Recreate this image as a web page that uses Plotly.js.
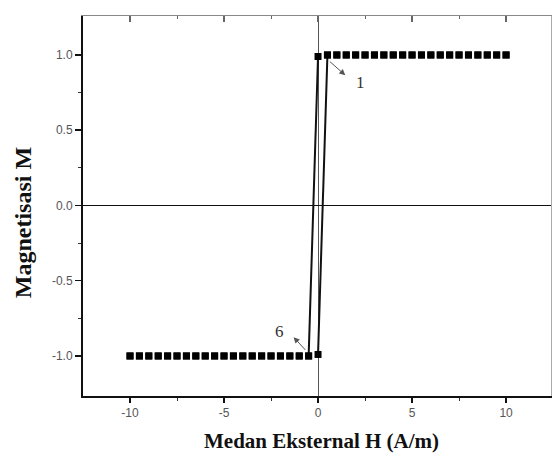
<!DOCTYPE html>
<html>
<head>
<meta charset="utf-8">
<script src="https://cdn.plot.ly/plotly-3.0.1.min.js"></script>
<style>html,body{margin:0;padding:0;background:#fff;}#chart{width:552px;height:457px;}</style>
</head>
<body>
<div id="chart"></div>
<script>
// Descending branch (H from +10 to -10)
const H_desc = [10, 9.5, 9, 8.5, 8, 7.5, 7, 6.5, 6, 5.5, 5, 4.5, 4, 3.5, 3, 2.5, 2, 1.5, 1, 0.5, 0,
                -0.5, -1, -1.5, -2, -2.5, -3, -3.5, -4, -4.5, -5, -5.5, -6, -6.5, -7, -7.5, -8, -8.5, -9, -9.5, -10];
const M_desc = [1, 1, 1, 1, 1, 1, 1, 1, 1, 1, 1, 1, 1, 1, 1, 1, 1, 1, 1, 1, 0.99,
                -1, -1, -1, -1, -1, -1, -1, -1, -1, -1, -1, -1, -1, -1, -1, -1, -1, -1, -1, -1];
// Ascending branch (H from -10 to +10)
const H_asc = [-10, -9.5, -9, -8.5, -8, -7.5, -7, -6.5, -6, -5.5, -5, -4.5, -4, -3.5, -3, -2.5, -2, -1.5, -1, -0.5, 0,
               0.5, 1, 1.5, 2, 2.5, 3, 3.5, 4, 4.5, 5, 5.5, 6, 6.5, 7, 7.5, 8, 8.5, 9, 9.5, 10];
const M_asc = [-1, -1, -1, -1, -1, -1, -1, -1, -1, -1, -1, -1, -1, -1, -1, -1, -1, -1, -1, -1, -0.99,
               1, 1, 1, 1, 1, 1, 1, 1, 1, 1, 1, 1, 1, 1, 1, 1, 1, 1, 1, 1];

const xTickVals = [-10, -5, 0, 5, 10];
const xTickText = ['-10', '-5', '0', '5', '10'];
const yTickVals = [-1.0, -0.5, 0.0, 0.5, 1.0];
const yTickText = ['-1.0', '-0.5', '0.0', '0.5', '1.0'];

const xTitle = 'Medan Eksternal H (A/m)';
const yTitle = 'Magnetisasi M';

// curve labels: text, label position, arrow tail (on curve), arrow head (near label)
const labelText = ['1', '6'];
const labelH = [2.25, -2.05];
const labelM = [0.82, -0.84];
const arrowTailH = [0.55, -0.6];
const arrowTailM = [0.965, -0.97];
const arrowHeadH = [1.45, -1.3];
const arrowHeadM = [0.865, -0.875];

function transitionSegments(H, M) {
  const xs = [], ys = [];
  for (let i = 0; i < H.length - 1; i++) {
    if (Math.abs(M[i + 1] - M[i]) > 0.5) {
      xs.push(H[i], H[i + 1], null);
      ys.push(M[i], M[i + 1], null);
    }
  }
  return {xs, ys};
}
const segD = transitionSegments(H_desc, M_desc);
const segA = transitionSegments(H_asc, M_asc);

const XR = [-12.5, 12.39];
const YR = [-1.266, 1.259];

const traces = [
  {x: segD.xs, y: segD.ys, mode: 'lines', line: {color: '#111', width: 2}, hoverinfo: 'skip', showlegend: false},
  {x: segA.xs, y: segA.ys, mode: 'lines', line: {color: '#111', width: 2}, hoverinfo: 'skip', showlegend: false},
  {x: H_desc, y: M_desc, mode: 'markers', marker: {symbol: 'square', size: 7, color: '#000'}, showlegend: false},
  {x: H_asc, y: M_asc, mode: 'markers', marker: {symbol: 'square', size: 7, color: '#000'}, showlegend: false},
  // overlay axes for top/right frame
  {x: [0], y: [0], xaxis: 'x2', yaxis: 'y2', mode: 'markers', marker: {opacity: 0}, hoverinfo: 'skip', showlegend: false}
];

const serif = 'Liberation Serif, Times New Roman, serif';
const annotations = [];
for (let i = 0; i < labelText.length; i++) {
  annotations.push({
    x: labelH[i], y: labelM[i], xref: 'x', yref: 'y', text: labelText[i], showarrow: false,
    font: {family: serif, size: 17, color: '#333'}
  });
  annotations.push({
    x: arrowHeadH[i], y: arrowHeadM[i], ax: arrowTailH[i], ay: arrowTailM[i],
    xref: 'x', yref: 'y', axref: 'x', ayref: 'y', text: '', showarrow: true,
    arrowhead: 2, arrowsize: 1.2, arrowwidth: 1, arrowcolor: '#555'
  });
}
// axis titles
annotations.push({
  text: '<b>' + xTitle + '</b>', xref: 'paper', yref: 'paper', x: 0.51, y: -0.082, yanchor: 'top',
  showarrow: false, font: {family: serif, size: 21, color: '#111'}
});
annotations.push({
  text: '<b>' + yTitle + '</b>', xref: 'paper', yref: 'paper', x: -0.128, y: 0.455, textangle: -90,
  xanchor: 'center', yanchor: 'middle',
  showarrow: false, font: {family: serif, size: 24, color: '#111'}
});

const tickFont = {family: 'Liberation Sans, Arial, sans-serif', size: 12, color: '#555'};

const layout = {
  width: 552, height: 457,
  margin: {l: 83, r: 1, t: 16, b: 61},
  paper_bgcolor: '#fff', plot_bgcolor: '#fff',
  showlegend: false,
  xaxis: {
    range: XR, showgrid: false, zeroline: true, zerolinecolor: '#555', zerolinewidth: 1,
    showline: true, linecolor: '#111', linewidth: 2,
    ticks: 'outside', ticklen: 5, tickwidth: 1.5, tickcolor: '#111',
    tickvals: xTickVals, ticktext: xTickText, tickfont: tickFont,
    minor: {tickvals: [-7.5, -2.5, 2.5, 7.5], ticks: 'outside', ticklen: 3, tickwidth: 1, tickcolor: '#333'},
    automargin: false
  },
  yaxis: {
    range: YR, showgrid: false, zeroline: true, zerolinecolor: '#111', zerolinewidth: 1,
    showline: true, linecolor: '#111', linewidth: 2,
    ticks: 'outside', ticklen: 6, tickwidth: 1.5, tickcolor: '#111',
    tickvals: yTickVals, ticktext: yTickText, tickfont: tickFont,
    minor: {tickvals: [-0.75, -0.25, 0.25, 0.75], ticks: 'outside', ticklen: 3, tickwidth: 1, tickcolor: '#333'},
    automargin: false
  },
  xaxis2: {
    range: XR, overlaying: 'x', side: 'top', showgrid: false, zeroline: false,
    showline: true, linecolor: '#888', linewidth: 1,
    ticks: 'inside', ticklen: 6, tickwidth: 1.5, tickcolor: '#666', tickvals: xTickVals, showticklabels: false,
    minor: {tickvals: [-7.5, -2.5, 2.5, 7.5], ticks: 'inside', ticklen: 3, tickwidth: 1, tickcolor: '#666'}
  },
  yaxis2: {
    range: YR, overlaying: 'y', side: 'right', showgrid: false, zeroline: false,
    showline: true, linecolor: '#aaa', linewidth: 1, ticks: '', showticklabels: false
  },
  annotations: annotations
};

Plotly.newPlot('chart', traces, layout, {staticPlot: true, displayModeBar: false});
</script>
</body>
</html>
